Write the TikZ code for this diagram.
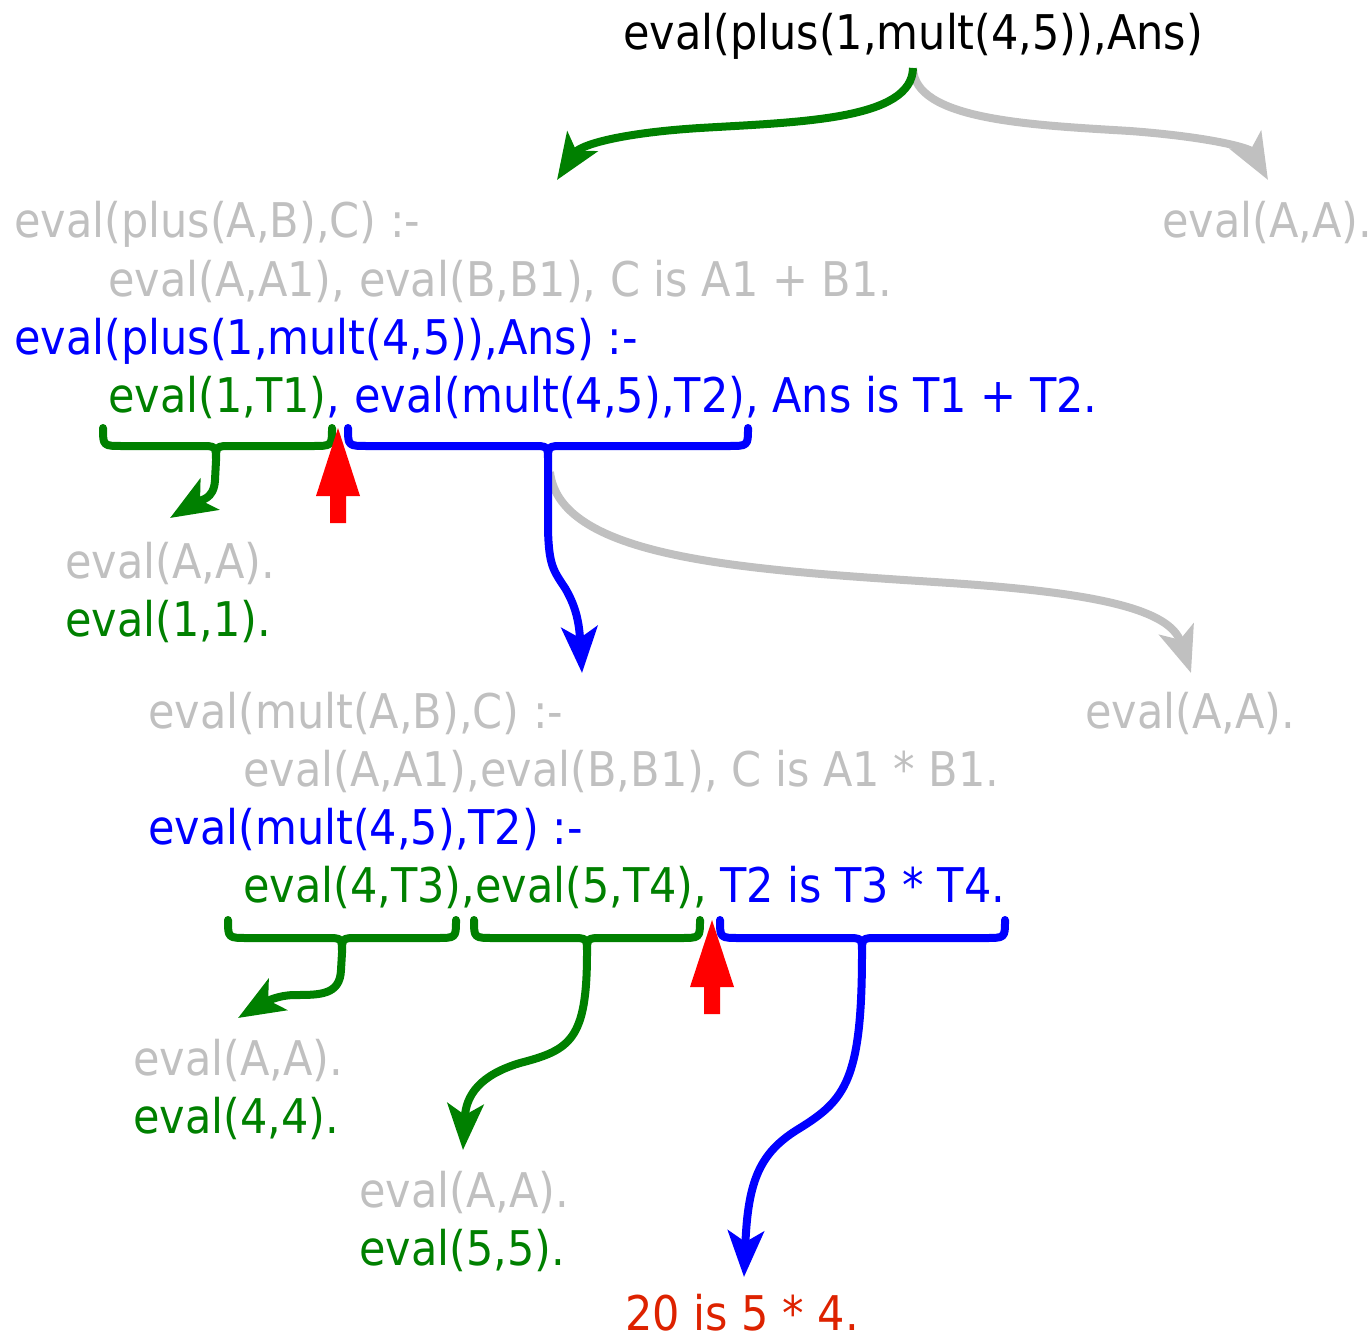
\documentclass[tikz,border=0pt]{standalone}
\usepackage{fontspec}
\setmainfont{DejaVu Sans Condensed}
\usetikzlibrary{arrows.meta}
\definecolor{lgray}{RGB}{192,192,192}
\definecolor{dgreen}{RGB}{0,128,0}
\definecolor{pblue}{RGB}{0,0,255}
\definecolor{rtext}{RGB}{221,34,0}
\definecolor{rarrow}{RGB}{255,0,0}
\newcommand\mybrace[5]{%
  \draw[br,#1] (#2,#5) .. controls (#2,#5+18) .. (#2+20,#5+18) -- (#3-16,#5+18)
    .. controls (#3,#5+18) .. (#3,#5+33) .. controls (#3,#5+18) .. (#3+16,#5+18)
    -- (#4-20,#5+18) .. controls (#4,#5+18) .. (#4,#5);}
\newcommand\uparrowshape[4]{% x, tip y, head base y, bottom y
  \fill[rarrow] (#1,#2) -- (#1+22,#3) -- (#1+8,#3) -- (#1+8,#4) -- (#1-8,#4) -- (#1-8,#3) -- (#1-22,#3) -- cycle;}
\begin{document}
\begin{tikzpicture}[x=1pt,y=-1pt,
  txt/.style={anchor=base west,inner sep=0pt,font=\fontsize{47.8}{52}\selectfont},
  con/.style={line width=8pt,-{Stealth[length=46pt,width=36pt,inset=11pt]}},
  br/.style={line width=8pt,line cap=round,line join=round}]
\useasboundingbox (0,0) rectangle (1372,1340);
% texts
\node[txt] (q) at (623,50) {eval(plus(1,mult(4,5)),Ans)};
\node[txt,lgray] (r1) at (14,238) {eval(plus(A,B),C) :-};
\node[txt,lgray] (r1b) at (108,296) {eval(A,A1), eval(B,B1), C is A1 + B1.};
\node[txt,lgray] (f1) at (1162,238) {eval(A,A).};
\node[txt,pblue] (i1) at (14,354) {eval(plus(1,mult(4,5)),Ans) :-};
\node[txt,dgreen] (g1) at (108,412) {eval(1,T1)};
\node[txt,pblue] (b1) at (g1.base east) {, eval(mult(4,5),T2), Ans is T1 + T2.};
\node[txt,lgray] (f2) at (65,578) {eval(A,A).};
\node[txt,dgreen] (f2i) at (65,636) {eval(1,1).};
\node[txt,lgray] (r2) at (148,728) {eval(mult(A,B),C) :-};
\node[txt,lgray] (r2b) at (243,786) {eval(A,A1),eval(B,B1), C is A1 * B1.};
\node[txt,lgray] (f3) at (1085,728) {eval(A,A).};
\node[txt,pblue] (i2) at (148,844) {eval(mult(4,5),T2) :-};
\node[txt,dgreen] (g2) at (243,902) {eval(4,T3),eval(5,T4),};
\node[txt,pblue] (b2) at (720,902) {T2 is T3 * T4.};
\node[txt,lgray] (f4) at (133,1075) {eval(A,A).};
\node[txt,dgreen] (f4i) at (133,1133) {eval(4,4).};
\node[txt,lgray] (f5) at (359,1207) {eval(A,A).};
\node[txt,dgreen] (f5i) at (359,1265) {eval(5,5).};
\node[txt,rtext] (res) at (625,1330) {20 is 5 * 4.};
% coordinates
\coordinate (s0) at (913,68);
\coordinate (e0g) at (557,180);
\coordinate (e0r) at (1268,180);
\coordinate (t1) at (216,461);
\coordinate (e1) at (170,518);
\coordinate (t2) at (548,461);
\coordinate (e2) at (582,673);
\coordinate (s2g) at (550,472);
\coordinate (e2g) at (1191,673);
\coordinate (t3) at (342,953);
\coordinate (e3) at (238,1018);
\coordinate (t4) at (587,953);
\coordinate (e4) at (463,1150);
\coordinate (t5) at (862,953);
\coordinate (e5) at (744,1277);
% top arrows
\draw[con,lgray] (s0) .. controls (914,120) and (1030,125) .. (1130,131) .. controls (1210,137) and (1250,148) .. (e0r);
\draw[con,dgreen] (s0) .. controls (912,120) and (800,122) .. (700,128) .. controls (620,133) and (580,145) .. (e0g);
% first level braces
\mybrace{dgreen}{103}{216}{332}{428}
\mybrace{pblue}{348}{548}{748}{428}
\draw[con,dgreen] (t1) -- (215,480) .. controls (214,500) and (200,500) .. (e1);
\draw[con,lgray] (s2g) .. controls (560,560) and (750,570) .. (950,583) .. controls (1100,593) and (1170,610) .. (e2g);
\draw[con,pblue] (t2) -- (548,530) .. controls (549,565) and (553,570) .. (565,588) .. controls (575,605) and (579,620) .. (e2);
\uparrowshape{338}{428}{496}{523}
% second level braces
\mybrace{dgreen}{228}{342}{456}{920}
\mybrace{dgreen}{474}{587}{700}{920}
\mybrace{pblue}{720}{862}{1005}{920}
\draw[con,dgreen] (t3) -- (341,970) .. controls (340,995) and (320,995) .. (295,995) .. controls (275,995) and (260,1005) .. (e3);
\draw[con,dgreen] (t4) .. controls (587,1040) and (570,1050) .. (520,1063) .. controls (480,1075) and (466,1095) .. (e4);
\draw[con,pblue] (t5) .. controls (862,1080) and (845,1100) .. (800,1128) .. controls (760,1152) and (748,1180) .. (e5);
\uparrowshape{712}{920}{987}{1014}
\end{tikzpicture}
\end{document}
